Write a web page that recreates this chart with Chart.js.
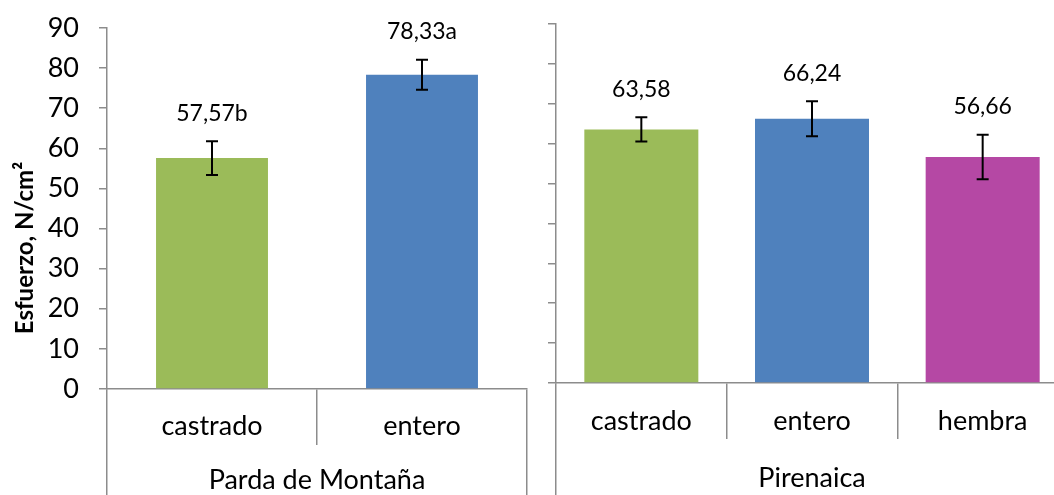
<!DOCTYPE html>
<html>
<head>
<meta charset="utf-8">
<script src="https://cdn.jsdelivr.net/npm/chart.js@4.4.1/dist/chart.umd.min.js"></script>
<style>
  html, body { margin: 0; padding: 0; background: #fff; overflow: hidden; }
  #wrap { position: relative; width: 1054px; height: 495px; overflow: hidden; }
  canvas { position: absolute; top: 0; }
  #izq { left: 0; }
  #der { left: 520px; }
</style>
</head>
<body>
<div id="wrap">
  <canvas id="izq" width="540" height="495"></canvas>
  <canvas id="der" width="560" height="495"></canvas>
</div>
<script>
// datos
const razas = ["Parda de Montaña", "Pirenaica"];
const sexosParda = ["castrado", "entero"];
const sexosPirenaica = ["castrado", "entero", "hembra"];
const mediasParda = [57.57, 78.33];
const mediasPirenaica = [63.58, 66.24, 56.66];
const errorParda = [4.2, 3.75];
const errorPirenaica = [3.05, 4.4, 5.55];
const letrasParda = ["b", "a"];
const letrasPirenaica = ["", "", ""];
const coloresParda = ["#9BBB59", "#4F81BD"];
const coloresPirenaica = ["#9BBB59", "#4F81BD", "#B548A4"];
const yMin = 0, yMax = 90, yPaso = 10;
const tituloY = "Esfuerzo, N/cm²";

const gris = "#8C8C8C";
const fuente = "Lato";

// barras de error y etiquetas de valor
function anotaciones(errores, letras) {
    return {
        id: "anotaciones",
        afterDatasetsDraw(chart) {
            const ctx = chart.ctx;
            const y = chart.scales.y;
            const datos = chart.data.datasets[0].data;
            ctx.save();
            ctx.strokeStyle = "#000";
            ctx.fillStyle = "#000";
            ctx.lineWidth = 2;
            ctx.font = "23px " + fuente;
            ctx.textAlign = "center";
            ctx.textBaseline = "middle";
            chart.getDatasetMeta(0).data.forEach((barra, i) => {
                const v = datos[i];
                const arriba = y.getPixelForValue(v + errores[i]);
                const abajo = y.getPixelForValue(v - errores[i]);
                ctx.beginPath();
                ctx.moveTo(barra.x, arriba); ctx.lineTo(barra.x, abajo);
                ctx.moveTo(barra.x - 6, arriba); ctx.lineTo(barra.x + 6, arriba);
                ctx.moveTo(barra.x - 6, abajo); ctx.lineTo(barra.x + 6, abajo);
                ctx.stroke();
                const texto = v.toFixed(2).replace(".", ",") + letras[i];
                ctx.fillText(texto, barra.x, arriba - 28);
            });
            ctx.restore();
        }
    };
}

const tituloEje = {
    id: "tituloEje",
    afterDraw(chart) {
        const ctx = chart.ctx;
        ctx.save();
        ctx.translate(25, 248);
        ctx.rotate(-Math.PI / 2);
        ctx.font = "bold 24px " + fuente;
        ctx.fillStyle = "#000";
        ctx.textAlign = "center";
        ctx.textBaseline = "middle";
        ctx.fillText(tituloY, 0, 0);
        ctx.restore();
    }
};

function crearGrafico(id, sexos, medias, colores, raza, errores, letras, m) {
    const plugins = [anotaciones(errores, letras)];
    if (m.conTitulo) plugins.push(tituloEje);

    new Chart(document.getElementById(id), {
        type: "bar",
        data: {
            labels: sexos,
            datasets: [{
                data: medias,
                backgroundColor: colores,
                borderWidth: 0,
                categoryPercentage: 1,
                barPercentage: m.anchoBarra
            }]
        },
        options: {
            responsive: false,
            animation: false,
            layout: { padding: { top: m.arriba, right: m.derecha, left: 0, bottom: 0 } },
            plugins: { legend: { display: false }, tooltip: { enabled: false } },
            scales: {
                y: {
                    min: yMin,
                    max: yMax,
                    ticks: {
                        stepSize: yPaso,
                        padding: m.conTitulo ? 20 : 0,
                        color: "#000",
                        font: { family: fuente, size: 27, lineHeight: 0.5 },
                        callback: (v) => m.conTitulo ? v : ""
                    },
                    grid: { drawOnChartArea: false, drawTicks: true, tickLength: 8, color: gris, lineWidth: 1.5 },
                    border: { color: gris, width: 1.5 },
                    afterFit: (s) => { s.width = m.anchoY; }
                },
                x: {
                    weight: 0,
                    offset: true,
                    ticks: {
                        padding: m.pad1,
                        maxRotation: 0,
                        autoSkip: false,
                        color: "#000",
                        font: { family: fuente, size: 27, lineHeight: 1.2 }
                    },
                    grid: { offset: true, drawOnChartArea: false, drawTicks: true, tickLength: 56, color: gris, lineWidth: 1.5 },
                    border: { color: gris, width: 1.5 },
                    afterFit: (s) => { s.height = 56; }
                },
                x2: {
                    type: "category",
                    position: "bottom",
                    weight: 1,
                    labels: [raza],
                    offset: true,
                    ticks: {
                        padding: m.pad2,
                        maxRotation: 0,
                        color: "#000",
                        font: { family: fuente, size: 27, lineHeight: 1.2 }
                    },
                    grid: { offset: true, drawOnChartArea: false, drawTicks: true, tickLength: m.alto2, color: gris, lineWidth: 1.5 },
                    border: { display: false },
                    afterFit: (s) => { s.height = m.alto2; }
                }
            }
        },
        plugins: plugins
    });
}

crearGrafico("izq", sexosParda, mediasParda, coloresParda, razas[0], errorParda, letrasParda,
    { conTitulo: true, anchoBarra: 0.533, arriba: 28, derecha: 13, anchoY: 107, alto2: 50, pad1: -34.5, pad2: -31 });
crearGrafico("der", sexosPirenaica, mediasPirenaica, coloresPirenaica, razas[1], errorPirenaica, letrasPirenaica,
    { conTitulo: false, anchoBarra: 0.668, arriba: 24, derecha: 12, anchoY: 36, alto2: 56, pad1: -33.5, pad2: -33 });
</script>
</body>
</html>
